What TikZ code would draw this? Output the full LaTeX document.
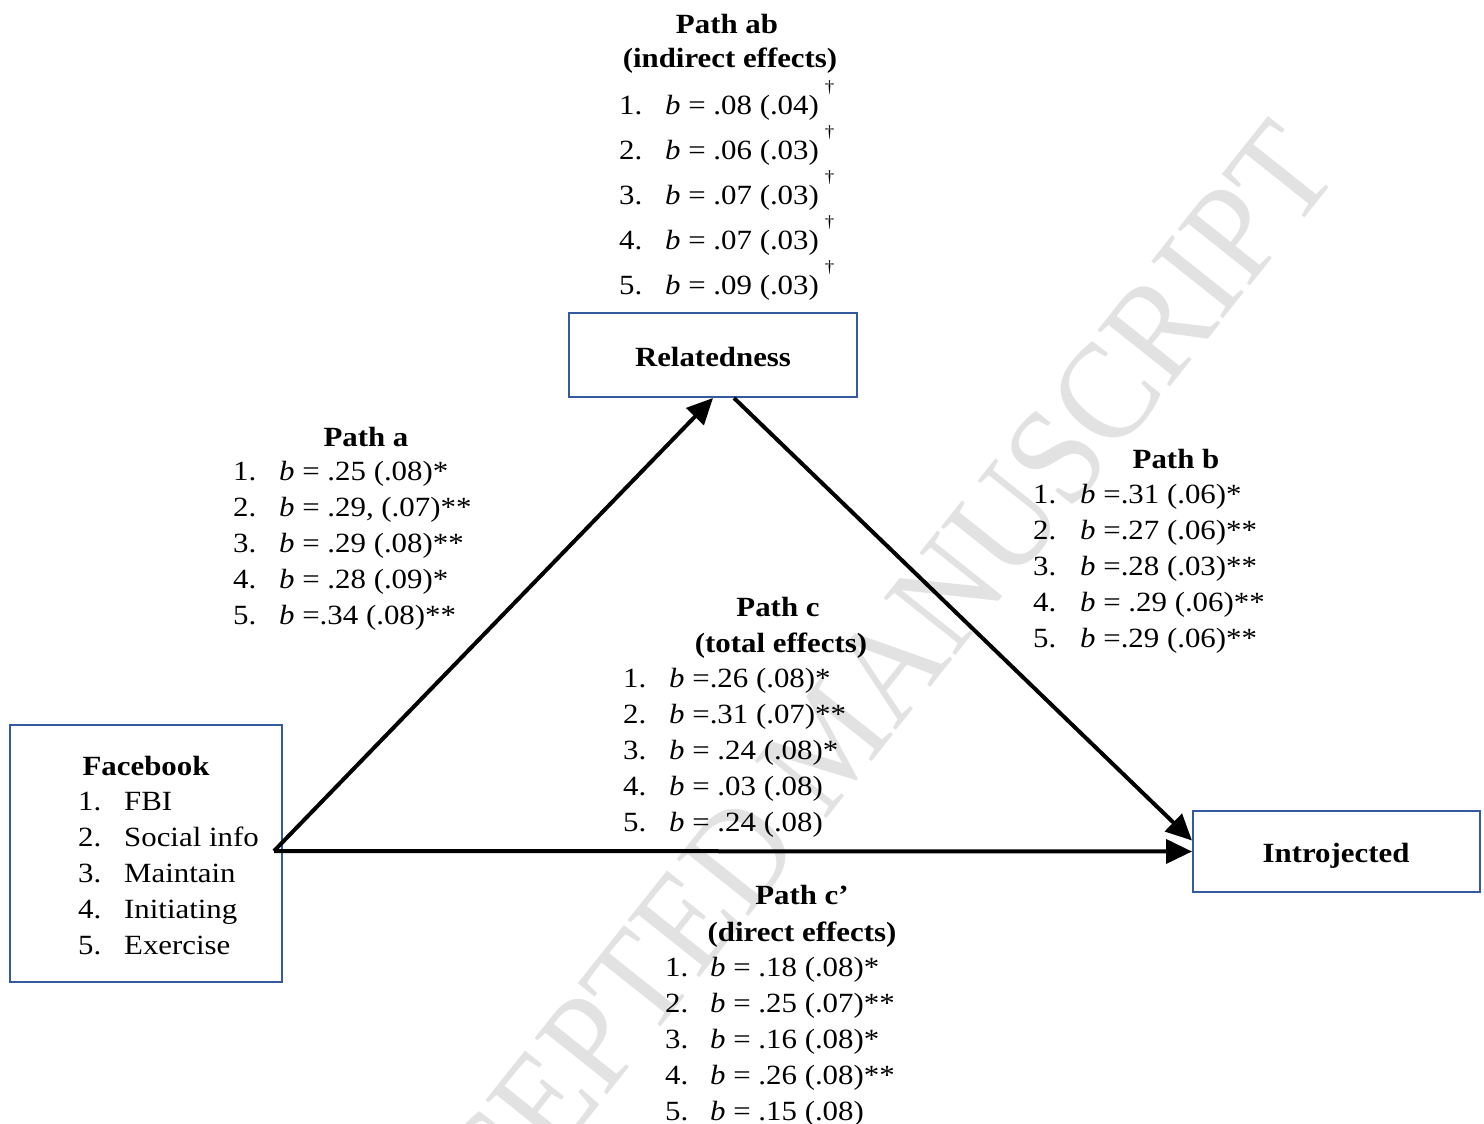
\documentclass[tikz,border=0pt]{standalone}
\usepackage{fontspec}
\setmainfont{Liberation Serif}[FakeStretch=1.11]
\newfontfamily\wmfont{Liberation Serif}[FakeStretch=0.92]
\usetikzlibrary{arrows.meta}
\definecolor{boxblue}{RGB}{52,91,160}
\definecolor{wmgray}{RGB}{226,226,226}
\tikzset{
  txt/.style={font=\fontsize{27.8}{36}\selectfont, inner sep=0pt, anchor=base west},
  ttl/.style={font=\fontsize{27.8}{36}\selectfont\bfseries, inner sep=0pt, anchor=base},
  varbox/.style={draw=boxblue, line width=2pt, inner sep=0pt},
  conn/.style={line width=4pt, -{Triangle[length=26pt,width=24pt]}},
  watermark/.style={font=\wmfont\fontsize{140}{140}\selectfont, text=wmgray, inner sep=0pt, rotate=51.5}
}
\newcommand\dg{\hspace{6pt}\raisebox{22pt}{\fontsize{17}{17}\selectfont †}}
% #1 name, #2 x number, #3 x text, #4 first baseline, #5 line step, #6 items
\newcommand\blist[6]{%
  \foreach \t [count=\i] in {#6} {
    \node[txt] (#1n\i) at (#2, {#4+#5*(\i-1)}) {\i.};
    \node[txt] (#1t\i) at (#3, {#4+#5*(\i-1)}) {\t};
  }}
\begin{document}
\begin{tikzpicture}[x=1pt,y=-1pt]
\useasboundingbox (0,0) rectangle (1484,1124);
\clip (0,0) rectangle (1484,1124);
\fill[white] (0,0) rectangle (1484,1124);

% watermark
\node[watermark] (wm) at (830,741) {ACCEPTED MANUSCRIPT};

% boxes
\node[varbox, minimum width=288pt, minimum height=84pt] (rel) at (713,355) {};
\node[ttl] (relt) at (713,366) {Relatedness};
\node[varbox, minimum width=272pt, minimum height=257pt] (fb) at (146,853.5) {};
\node[varbox, minimum width=287pt, minimum height=81pt] (intro) at (1336.5,851.5) {};
\node[ttl] (introt) at (1336,862) {Introjected};

% Facebook contents
\node[ttl] (fbt) at (146,775) {Facebook};
\blist{fb}{78}{124}{810}{36}{FBI,Social info,Maintain,Initiating,Exercise}

% Path ab
\node[ttl] (abt1) at (727,34) {Path ab};
\node[ttl] (abt2) at (730,68) {(indirect effects)};
\blist{ab}{619}{665}{114}{45}{{\textit{b} = .08 (.04)\dg},{\textit{b} = .06 (.03)\dg},{\textit{b} = .07 (.03)\dg},{\textit{b} = .07 (.03)\dg},{\textit{b} = .09 (.03)\dg}}

% Path a
\node[ttl] (at) at (366,446) {Path a};
\blist{pa}{233}{279}{480}{36}{{\textit{b} = .25 (.08)*},{\textit{b} = .29, (.07)**},{\textit{b} = .29 (.08)**},{\textit{b} = .28 (.09)*},{\textit{b} =.34 (.08)**}}

% Path b
\node[ttl] (bt) at (1176,468) {Path b};
\blist{pb}{1033}{1080}{503}{36}{{\textit{b} =.31 (.06)*},{\textit{b} =.27 (.06)**},{\textit{b} =.28 (.03)**},{\textit{b} = .29 (.06)**},{\textit{b} =.29 (.06)**}}

% Path c
\node[ttl] (ct1) at (778,616) {Path c};
\node[ttl] (ct2) at (781,652) {(total effects)};
\blist{pc}{623}{669}{687}{36}{{\textit{b} =.26 (.08)*},{\textit{b} =.31 (.07)**},{\textit{b} = .24 (.08)*},{\textit{b} = .03 (.08)},{\textit{b} = .24 (.08)}}

% Path c'
\node[ttl] (cpt1) at (802,904) {Path c’};
\node[ttl] (cpt2) at (802,941) {(direct effects)};
\blist{pd}{665}{710}{976}{36}{{\textit{b} = .18 (.08)*},{\textit{b} = .25 (.07)**},{\textit{b} = .16 (.08)*},{\textit{b} = .26 (.08)**},{\textit{b} = .15 (.08)}}

% connectors
\coordinate (fbout) at (274,851);
\draw[conn] (fbout) -- (rel.south);
\draw[conn] ([xshift=21pt]rel.south) -- ([yshift=11pt]intro.west);
\draw[conn] (fbout) -- (intro.west);
\end{tikzpicture}
\end{document}
